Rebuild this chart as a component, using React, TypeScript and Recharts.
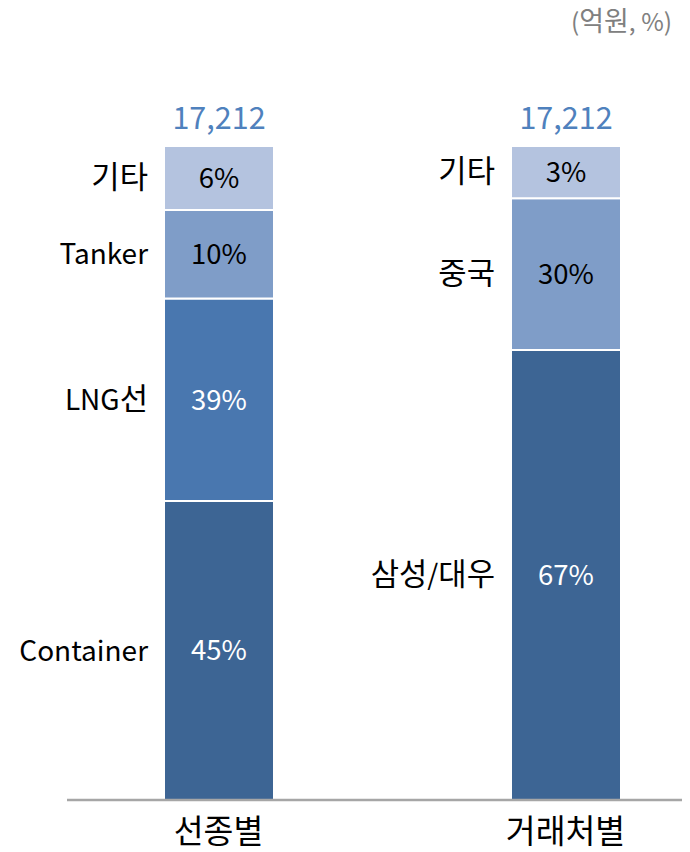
import { BarChart, Bar, XAxis, YAxis, LabelList, Cell } from 'recharts';

// 구간 값: 막대 높이는 그림에서 읽은 비율, 라벨은 원본 표기 그대로
const categories = ['선종별', '거래처별'];
const seg1 = [45.7, 68.8];
const seg2 = [31.0, 23.2];
const seg3 = [13.5, 8.0];
const seg4 = [9.8, 0];

const seg1Names = ['Container', '삼성/대우'];
const seg2Names = ['LNG선', '중국'];
const seg3Names = ['Tanker', '기타'];
const seg4Names = ['기타', ''];

const seg1Pct = ['45%', '67%'];
const seg2Pct = ['39%', '30%'];
const seg3Pct = ['10%', '3%'];
const seg4Pct = ['6%', ''];

const totals = ['17,212', '17,212'];

const DARK = '#3D6594';
const MID = '#4977AF';
const LIGHT = '#7F9DC8';
const PALE = '#B4C3DF';

const seg1Colors = [DARK, DARK];
const seg2Colors = [MID, LIGHT];
const seg3Colors = [LIGHT, PALE];
const seg4Colors = [PALE, PALE];

const data = categories.map((name, i) => ({
  name,
  s1: seg1[i],
  s2: seg2[i],
  s3: seg3[i],
  s4: seg4[i],
}));

const keys = ['s1', 's2', 's3', 's4'];
// 각 막대의 맨 위 구간 (합계 라벨 위치)
const topKey = data.map((d: any) => keys.filter((k) => d[k] > 0).pop());

const isDark = (c: string) => c === DARK || c === MID;

// 한글 부분은 조금 크게
function Mixed({ x, y, size, fill, anchor, text }: any) {
  const parts = String(text).split(/([\uAC00-\uD7A3]+)/).filter((p) => p !== '');
  return (
    <text x={x} y={y + size * 0.36} textAnchor={anchor} fill={fill} fontSize={size}>
      {parts.map((p, i) => (
        <tspan key={i} fontSize={/[\uAC00-\uD7A3]/.test(p) ? size * 1.1 : size}>
          {p}
        </tspan>
      ))}
    </text>
  );
}

function makeLabel(key: string, names: string[], pcts: string[], colors: string[]) {
  return (props: any) => {
    const { x, y, width, height, index } = props;
    if (!pcts[index]) return null;
    const cy = y + height / 2;
    return (
      <g>
        <Mixed x={x + width / 2} y={cy} size={27.5} anchor="middle" fill={isDark(colors[index]) ? '#fff' : '#000'} text={pcts[index]} />
        <Mixed x={x - 16} y={cy} size={28} anchor="end" fill="#000" text={names[index]} />
        {topKey[index] === key && (
          <Mixed x={x + width / 2} y={y - 28} size={30.5} anchor="middle" fill="#4F81BD" text={totals[index]} />
        )}
      </g>
    );
  };
}

const AxisTick = (props: any) => {
  const { x, y, payload } = props;
  return <Mixed x={x} y={y + 30} size={29.5} anchor="middle" fill="#000" text={payload.value} />;
};

export default function App() {
  const series = [
    { key: 's1', colors: seg1Colors, names: seg1Names, pcts: seg1Pct },
    { key: 's2', colors: seg2Colors, names: seg2Names, pcts: seg2Pct },
    { key: 's3', colors: seg3Colors, names: seg3Names, pcts: seg3Pct },
    { key: 's4', colors: seg4Colors, names: seg4Names, pcts: seg4Pct },
  ];

  return (
    <div
      style={{
        position: 'absolute',
        left: 0,
        top: 0,
        width: 690,
        height: 852,
        background: '#fff',
        fontFamily: '"Noto Sans CJK KR", "Noto Sans", sans-serif',
      }}
    >
      <svg style={{ position: 'absolute', left: 0, top: 0 }} width={690} height={50}>
        <Mixed x={672} y={22} size={24.5} anchor="end" fill="#808080" text="(억원, %)" />
      </svg>
      <BarChart width={690} height={852} data={data} margin={{ top: 146, right: 8, bottom: 0, left: 67 }}>
        <XAxis
          dataKey="name"
          padding={{ left: -22, right: -57 }}
          axisLine={{ stroke: '#A6A6A6', strokeWidth: 2.5 }}
          tickLine={false}
          tickSize={0}
          height={52}
          tick={<AxisTick />}
        />
        <YAxis hide domain={[0, 100]} />
        {series.map((s) => (
          <Bar key={s.key} dataKey={s.key} stackId="a" barSize={110} stroke="#fff" strokeWidth={2} isAnimationActive={false}>
            {data.map((_, i) => (
              <Cell key={i} fill={s.colors[i]} />
            ))}
            <LabelList dataKey={s.key} content={makeLabel(s.key, s.names, s.pcts, s.colors)} />
          </Bar>
        ))}
      </BarChart>
    </div>
  );
}
